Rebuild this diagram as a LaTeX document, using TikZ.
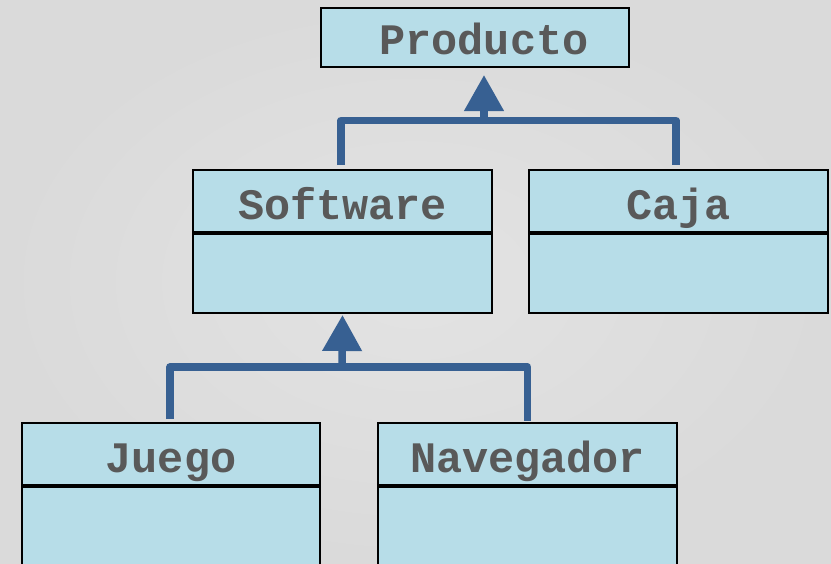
\documentclass[tikz,border=0pt]{standalone}
\usepackage{fontspec}
\setmonofont{Liberation Mono}
\usetikzlibrary{arrows.meta,positioning}

\definecolor{boxfill}{HTML}{B7DDE8}
\definecolor{labelgray}{HTML}{595959}
\definecolor{linkblue}{HTML}{376092}
\definecolor{bgin}{HTML}{E3E3E3}
\definecolor{bgout}{HTML}{DADADA}

\tikzset{
  classname/.style={draw=black, line width=2pt, fill=boxfill, inner sep=0pt,
    minimum width=299pt, minimum height=62pt, text height=40pt, text depth=3pt,
    font=\ttfamily\bfseries\fontsize{43.5}{43.5}\selectfont, text=labelgray},
  classbody/.style={draw=black, line width=2pt, fill=boxfill, inner sep=0pt,
    minimum width=299pt},
  link/.style={draw=linkblue, line width=7.5pt, line join=round},
  inherit/.style={link, -{Triangle[width=38pt,length=36pt]}}
}

\begin{document}
\begin{tikzpicture}[x=1pt, y=-1pt]
  \useasboundingbox (0,0) rectangle (831,563);
  \clip (0,0) rectangle (831,563);
  \fill[inner color=bgin, outer color=bgout] (0,0) rectangle (831,563);

  % class boxes: name compartment, then an empty body compartment
  \node[classname, minimum width=308pt, minimum height=59pt,
        text height=38pt, text depth=5pt] (prod) at (475,37.5) {\hspace*{18pt}Producto};

  \node[classname] (sw) at (342.5,201) {Software};
  \node[classbody, minimum height=79pt, below=0pt of sw] (swb) {};

  \node[classname] (caja) at (678.5,201) {Caja};
  \node[classbody, minimum height=79pt, below=0pt of caja] (cajab) {};

  \node[classname, minimum width=298pt] (juego) at (171,454) {Juego};
  \node[classbody, minimum width=298pt, minimum height=90pt, below=0pt of juego] (juegob) {};

  \node[classname] (nav) at (527.5,454) {Navegador};
  \node[classbody, minimum height=90pt, below=0pt of nav] (navb) {};

  % generalisation: Software and Caja -> Producto
  \coordinate (up1) at (484,120.5);
  \draw[link] ([xshift=-1.5pt,yshift=4pt]sw.north) |- (up1) -| ([xshift=-2.5pt,yshift=4pt]caja.north);
  \draw[inherit] (up1) -- ([xshift=9pt,yshift=-7pt]prod.south);

  % generalisation: Juego and Navegador -> Software
  \coordinate (up2) at (342,367);
  \draw[link] ([xshift=-1pt,yshift=3pt]juego.north) |- (up2) -| ([yshift=1pt]nav.north);
  \draw[inherit] (up2) -- ([yshift=-1pt]swb.south);
\end{tikzpicture}
\end{document}
